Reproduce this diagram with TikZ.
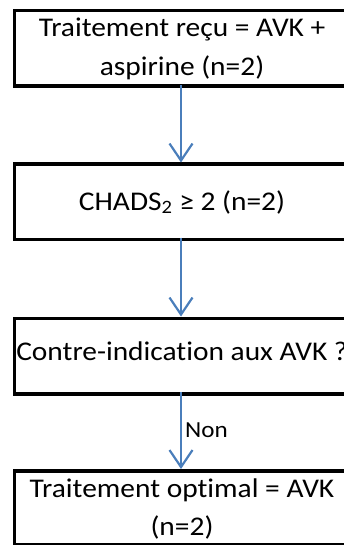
\documentclass[tikz,border=0pt]{standalone}
\usepackage{fontspec}
\setmainfont{Carlito}[Ligatures=CommonOff]
\usetikzlibrary{arrows.meta}
\definecolor{arrowblue}{RGB}{74,126,187}
\newcommand{\wide}[1]{\scalebox{1.09}[1]{#1}}
\tikzset{
  box/.style={draw=black, line width=3.5pt, minimum width=340pt, inner sep=0pt, anchor=north west},
  txt/.style={font=\fontsize{27}{36}\selectfont, inner sep=0pt, anchor=base},
  conn/.style={draw=arrowblue, line width=2.2pt, -{Straight Barb[length=17pt,width=23pt,line width=2.2pt]}},
  lbl/.style={font=\fontsize{23}{28}\selectfont, inner sep=0pt, anchor=base west}
}
\begin{document}
\begin{tikzpicture}[x=1pt,y=-1pt]
\useasboundingbox (0,0) rectangle (344,545);
\clip (0,0) rectangle (344,545);
\node[box, minimum height=75.5pt] (b1) at (12.5,9) {};
\node[box, minimum height=75pt] (b2) at (12.5,162.5) {};
\node[box, minimum height=75.5pt] (b3) at (12.5,316.5) {};
\node[box, minimum height=74pt] (b4) at (12.5,469) {};
\node[txt] (t1a) at (182,36.7) {\wide{Traitement reçu = AVK +}};
\node[txt] (t1b) at (182,75.2) {\wide{aspirine (n=2)}};
\node[txt] (t2) at (182,210) {\wide{CHADS\textsubscript{2} ≥ 2 (n=2)}};
\node[txt] (t3) at (182,360) {\wide{Contre-indication aux AVK ?}};
\node[txt] (t4a) at (182,497.3) {\wide{Traitement optimal = AVK}};
\node[txt] (t4b) at (182,535) {\wide{(n=2)}};
\coordinate (a1s) at (181,85);
\coordinate (a1e) at (181,162.5);
\coordinate (a2s) at (181,237.5);
\coordinate (a2e) at (181,316.5);
\coordinate (a3s) at (181,392);
\coordinate (a3e) at (181,469);
\coordinate (nonpos) at (185,437);
\draw[conn] (a1s) -- (a1e);
\draw[conn] (a2s) -- (a2e);
\draw[conn] (a3s) -- (a3e);
\node[lbl] (non) at (nonpos) {\wide{Non}};
\end{tikzpicture}
\end{document}
